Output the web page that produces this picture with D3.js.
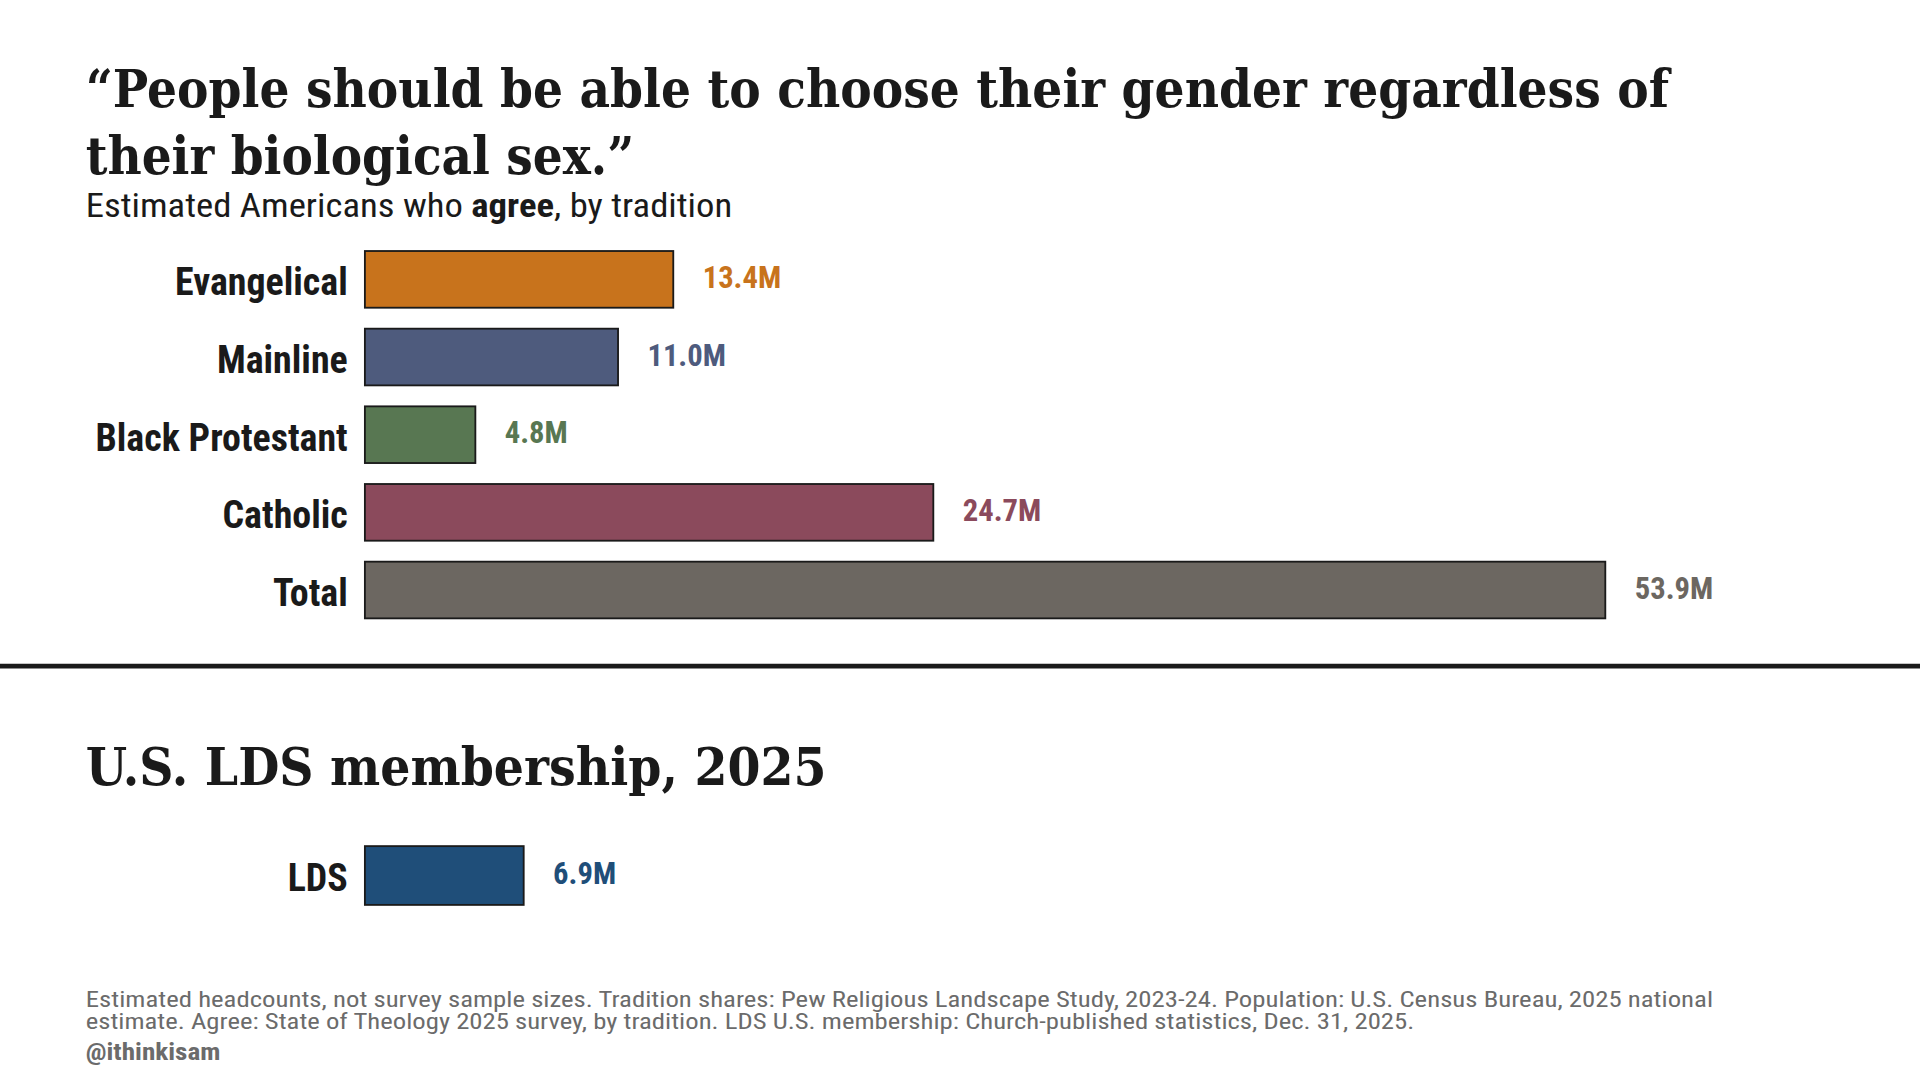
<!DOCTYPE html>
<html><head><meta charset="utf-8">
<script src="https://cdn.jsdelivr.net/npm/d3@7"></script>
<style>body{margin:0;background:#fff}svg{display:block}</style>
</head><body>
<script>
const categories = ["Evangelical","Mainline","Black Protestant","Catholic","Total"];
const values = [13.4,11.0,4.8,24.7,53.9];
const colors = ["#C8731C","#4E5B7D","#587752","#8B4A5C","#6C6761"];
const ldsCategories = ["LDS"];
const ldsValues = [6.9];
const ldsColors = ["#1F4E79"];

const cond = "'Roboto Condensed','Liberation Sans Narrow','Arial Narrow',Roboto,sans-serif";
const slab = "'Roboto Slab','DejaVu Serif',serif";
const svg = d3.select("body").append("svg").attr("width",1920).attr("height",1080)
  .attr("viewBox","0 0 1568 882");

const title = svg.append("text").attr("font-family",slab).attr("font-weight",700)
  .attr("font-size",43).attr("fill","#1a1a1a");
title.append("tspan").attr("x",70).attr("y",87).attr("textLength",1293).attr("lengthAdjust","spacingAndGlyphs")
  .text("\u201CPeople should be able to choose their gender regardless of");
title.append("tspan").attr("x",70).attr("y",142).attr("textLength",448).attr("lengthAdjust","spacingAndGlyphs")
  .text("their biological sex.\u201D");
const sub = svg.append("text").attr("x",70).attr("y",177).attr("font-family",cond)
  .attr("font-size",27).attr("fill","#1a1a1a").attr("textLength",528).attr("lengthAdjust","spacingAndGlyphs");
sub.append("tspan").text("Estimated Americans who ");
sub.append("tspan").attr("font-weight",700).text("agree");
sub.append("tspan").text(", by tradition");

const x = d3.scaleLinear().domain([0,53.9]).range([298,1311]);
function drawBars(cats, vals, cols, y0, y1, pad){
  const y = d3.scaleBand().domain(cats).range([y0,y1]).paddingInner(pad).paddingOuter(0);
  const g = svg.append("g");
  cats.forEach((c,i)=>{
    g.append("rect").attr("x",x(0)).attr("y",y(c)).attr("width",x(vals[i])-x(0))
      .attr("height",y.bandwidth()).attr("fill",cols[i]).attr("stroke","#1a1a1a").attr("stroke-width",1.5);
    g.append("text").attr("x",284).attr("y",y(c)+y.bandwidth()/2+13).attr("text-anchor","end")
      .attr("font-family",cond).attr("font-weight",700).attr("font-size",31).attr("fill","#1a1a1a")
      .text(c);
    g.append("text").attr("x",x(vals[i])+24).attr("y",y(c)+y.bandwidth()/2+7)
      .attr("font-family",cond).attr("font-weight",700).attr("font-size",25).attr("fill",cols[i])
      .text(vals[i].toFixed(1)+"M");
  });
}
drawBars(categories, values, colors, 205, 505, 0.27);
svg.append("line").attr("x1",0).attr("x2",1568).attr("y1",544).attr("y2",544)
  .attr("stroke","#1a1a1a").attr("stroke-width",4);
svg.append("text").attr("x",70).attr("y",641).attr("font-family",slab).attr("font-weight",700)
  .attr("font-size",43).attr("fill","#1a1a1a").attr("textLength",605).attr("lengthAdjust","spacingAndGlyphs")
  .text("U.S. LDS membership, 2025");
drawBars(ldsCategories, ldsValues, ldsColors, 691, 739, 0);

const foot = svg.append("text").attr("font-family",cond).attr("font-size",18).attr("fill","#6b6b6b");
foot.append("tspan").attr("x",70).attr("y",822).attr("textLength",1329).attr("lengthAdjust","spacingAndGlyphs")
  .text("Estimated headcounts, not survey sample sizes. Tradition shares: Pew Religious Landscape Study, 2023-24. Population: U.S. Census Bureau, 2025 national");
foot.append("tspan").attr("x",70).attr("y",840).attr("textLength",1085).attr("lengthAdjust","spacingAndGlyphs")
  .text("estimate. Agree: State of Theology 2025 survey, by tradition. LDS U.S. membership: Church-published statistics, Dec. 31, 2025.");
svg.append("text").attr("x",70).attr("y",866).attr("font-family",cond).attr("font-weight",700)
  .attr("font-size",19).attr("fill","#6b6b6b").attr("textLength",110).attr("lengthAdjust","spacingAndGlyphs").text("@ithinkisam");
</script>
</body></html>
